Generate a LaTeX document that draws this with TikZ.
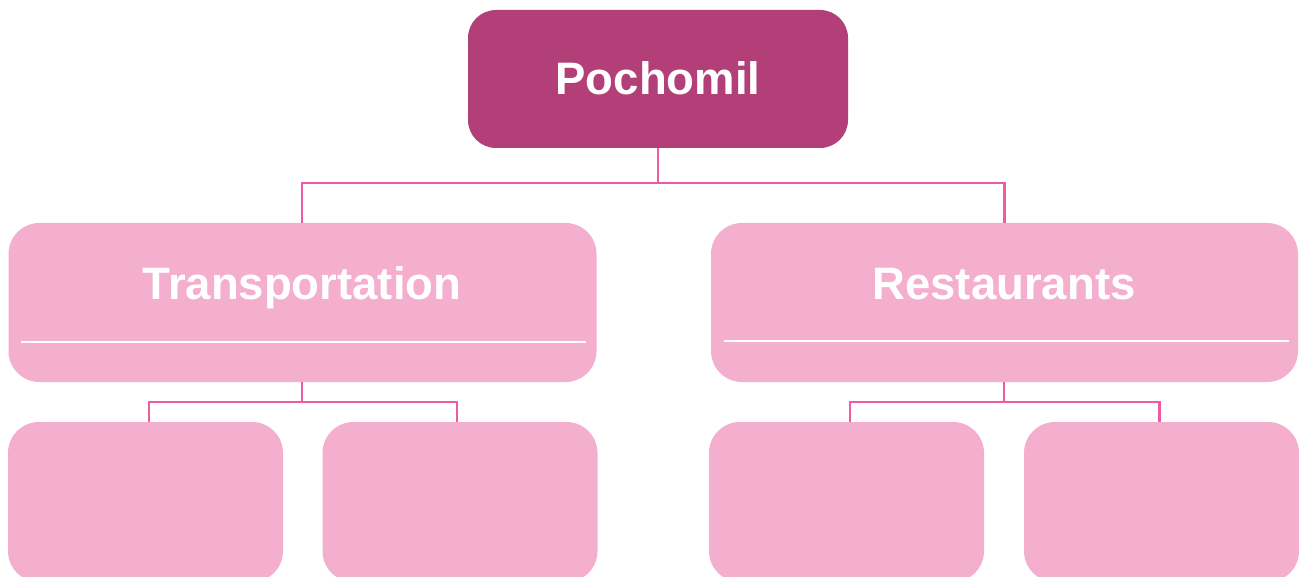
\documentclass[tikz,border=0pt]{standalone}
\usepackage{fontspec}
\setmainfont{Liberation Sans}
\definecolor{rootfill}{HTML}{B33F78}
\definecolor{boxfill}{HTML}{F4AECE}
\definecolor{connpink}{HTML}{F05AA5}
\begin{document}
\begin{tikzpicture}[x=1pt,y=-1pt,
  rootbox/.style={rectangle,rounded corners=28pt,fill=rootfill,draw=none,inner sep=0pt,minimum width=380pt,minimum height=138pt},
  midbox/.style={rectangle,rounded corners=31pt,fill=boxfill,draw=none,inner sep=0pt,minimum width=588pt,minimum height=159pt},
  leafbox/.style={rectangle,rounded corners=31pt,fill=boxfill,draw=none,inner sep=0pt,minimum width=275pt,minimum height=160pt},
  boxtext/.style={text=white,font=\fontsize{45.5}{50}\selectfont\bfseries,inner sep=0pt,anchor=base},
  conn/.style={draw=connpink,line width=2.3pt},
  sepline/.style={draw=white,line width=2.5pt}
]
\clip (0,0) rectangle (1299,577);
\fill[white] (0,0) rectangle (1299,577);

% boxes
\node[rootbox] (root) at (658,79) {};
\node[midbox] (trans) at (302.5,302.5) {};
\node[midbox, minimum width=587pt] (rest) at (1004.5,302.5) {};
\node[leafbox] (t1) at (145.5,502) {};
\node[leafbox] (t2) at (460,502) {};
\node[leafbox] (r1) at (846.5,502) {};
\node[leafbox] (r2) at (1161.5,502) {};

% texts
\node[boxtext] (roottxt) at (658,94.5) {Pochomil};
\node[boxtext] (transtxt) at (302,300) {Transportation};
\node[boxtext] (resttxt) at (1004,300) {Restaurants};

% separator lines
\draw[sepline] ([xshift=13pt]trans.west |- 0,342) -- ([xshift=-11pt]trans.east |- 0,342);
\draw[sepline] ([xshift=13pt]rest.west |- 0,341) -- ([xshift=-9pt]rest.east |- 0,341);

% connectors
\coordinate (bus1) at (0,183);
\coordinate (bus2) at (0,402);
\draw[conn] (root.south) -- (root.south |- bus1);
\draw[conn] ([xshift=-0.5pt]trans.north) |- (rest.north |- bus1) -- (rest.north);
\draw[conn] ([xshift=-0.5pt]trans.south) -- ([xshift=-0.5pt]trans.south |- bus2);
\draw[conn] ([xshift=3.5pt]t1.north) |- ([xshift=-3pt]t2.north |- bus2) -- ([xshift=-3pt]t2.north);
\draw[conn] ([xshift=-0.5pt]rest.south) -- ([xshift=-0.5pt]rest.south |- bus2);
\draw[conn] ([xshift=3.5pt]r1.north) |- ([xshift=-2pt]r2.north |- bus2) -- ([xshift=-2pt]r2.north);
\end{tikzpicture}
\end{document}
